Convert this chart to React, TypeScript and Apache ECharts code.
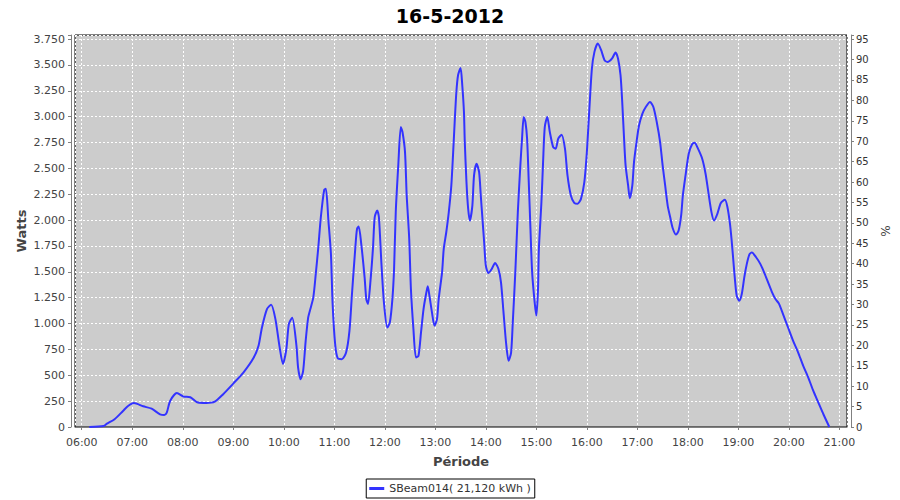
import React, { useEffect, useRef } from "react";
import * as echarts from "echarts";

const chartTitle = "16-5-2012";
const seriesName = "SBeam014( 21,120 kWh )";
const axisMin = "05:52";
const axisMax = "21:09";

const times = [
  "06:09", "06:26", "06:30", "06:39", "06:49", "06:55", "07:02", "07:13", "07:23", "07:33",
  "07:38", "07:41", "07:45", "07:53", "08:01", "08:09", "08:18", "08:28", "08:38", "08:48",
  "09:00", "09:12", "09:24", "09:30", "09:34", "09:40", "09:45", "09:50", "09:55", "09:59",
  "10:03", "10:06", "10:10", "10:15", "10:17", "10:20", "10:23", "10:26", "10:29", "10:31",
  "10:35", "10:38", "10:41", "10:44", "10:48", "10:50", "10:53", "10:56", "10:58", "11:01",
  "11:04", "11:09", "11:14", "11:18", "11:21", "11:25", "11:27", "11:29", "11:32", "11:36",
  "11:38", "11:40", "11:43", "11:46", "11:48", "11:51", "11:53", "11:56", "11:59", "12:03",
  "12:06", "12:09", "12:11", "12:13", "12:16", "12:19", "12:21", "12:24", "12:26", "12:29",
  "12:31", "12:34", "12:37", "12:40", "12:43", "12:46", "12:49", "12:51", "12:53", "12:56",
  "12:59", "13:02", "13:04", "13:08", "13:10", "13:13", "13:16", "13:19", "13:21", "13:23",
  "13:25", "13:27", "13:30", "13:32", "13:34", "13:35", "13:37", "13:39", "13:41", "13:44",
  "13:46", "13:49", "13:52", "13:54", "13:56", "13:58", "14:00", "14:03", "14:07", "14:11",
  "14:15", "14:18", "14:21", "14:24", "14:27", "14:30", "14:32", "14:35", "14:38", "14:41",
  "14:43", "14:45", "14:47", "14:49", "14:51", "14:53", "14:55", "14:58", "15:00", "15:02",
  "15:03", "15:06", "15:08", "15:10", "15:13", "15:16", "15:20", "15:23", "15:26", "15:30",
  "15:34", "15:37", "15:41", "15:45", "15:49", "15:53", "15:57", "16:00", "16:03", "16:06",
  "16:09", "16:13", "16:17", "16:21", "16:25", "16:30", "16:34", "16:37", "16:40", "16:42",
  "16:44", "16:46", "16:49", "16:51", "16:54", "16:56", "16:59", "17:02", "17:06", "17:10",
  "17:15", "17:19", "17:23", "17:27", "17:30", "17:33", "17:36", "17:39", "17:42", "17:46",
  "17:49", "17:52", "17:54", "17:57", "18:01", "18:05", "18:08", "18:12", "18:17", "18:21",
  "18:24", "18:28", "18:31", "18:35", "18:39", "18:44", "18:47", "18:50", "18:52", "18:54",
  "18:56", "18:58", "19:01", "19:04", "19:07", "19:10", "19:13", "19:16", "19:21", "19:26",
  "19:31", "19:36", "19:40", "19:44", "19:48", "19:53", "19:59", "20:05", "20:11", "20:17",
  "20:23", "20:29", "20:35", "20:41", "20:48"
];

const watts = [
  0, 10, 32, 75, 155, 203, 232, 200, 177, 123,
  116, 139, 252, 329, 294, 288, 236, 232, 245, 317,
  420, 526, 666, 785, 960, 1140, 1182, 1045, 775, 610,
  750, 995, 1056, 790, 575, 462, 543, 833, 1059, 1124,
  1250, 1480, 1737, 2028, 2293, 2303, 1996, 1673, 1189, 801,
  666, 656, 720, 930, 1286, 1737, 1915, 1938, 1770, 1447,
  1237, 1189, 1415, 1737, 2028, 2093, 2028, 1577, 1200, 962,
  1011, 1237, 1528, 2077, 2529, 2900, 2852, 2658, 2238, 1819,
  1334, 947, 672, 688, 914, 1140, 1286, 1360, 1269, 1108,
  979, 1043, 1237, 1495, 1722, 1883, 2077, 2335, 2626, 2949,
  3239, 3401, 3472, 3304, 3046, 2755, 2367, 2110, 1996, 2141,
  2432, 2545, 2464, 2238, 2012, 1786, 1560, 1489, 1528, 1586,
  1528, 1398, 1108, 817, 640, 720, 1011, 1495, 2077, 2529,
  2788, 2997, 2949, 2788, 2367, 1915, 1495, 1205, 1076, 1334,
  1720, 2170, 2561, 2900, 2997, 2852, 2706, 2691, 2788, 2826,
  2691, 2432, 2238, 2168, 2158, 2206, 2367, 2658, 3078, 3466,
  3627, 3708, 3643, 3547, 3530, 3563, 3621, 3563, 3401, 3143,
  2820, 2529, 2335, 2212, 2335, 2561, 2755, 2917, 3030, 3094,
  3143, 3094, 2949, 2755, 2529, 2335, 2141, 2028, 1922, 1860,
  1899, 2045, 2238, 2420, 2642, 2733, 2749, 2691, 2594, 2449,
  2287, 2077, 1996, 2061, 2164, 2197, 2125, 1964, 1802, 1609,
  1415, 1269, 1221, 1286, 1447, 1577, 1667, 1686, 1641, 1577,
  1486, 1383, 1302, 1237, 1195, 1092, 962, 833, 720, 591,
  478, 349, 236, 123, 0
];

const wattsMax = 3790;
const wattsStep = 250;
const percentMax = 96;
const percentStep = 5;

const toMs = (hm: string) => {
  const [h, m] = hm.split(":").map(Number);
  return new Date(2012, 4, 16, h, m, 0).getTime();
};

const pad = (n: number) => (n < 10 ? "0" + n : "" + n);

const fmtThousands = (v: number) => {
  const s = String(Math.round(v));
  return s.replace(/\B(?=(\d{3})+(?!\d))/g, ".");
};

const FONT = "DejaVu Sans";

export default function App() {
  const ref = useRef<HTMLDivElement>(null);

  useEffect(() => {
    if (!ref.current) return;
    const chart = echarts.init(ref.current, undefined, { renderer: "svg" });
    const data = times.map((t, i) => [toMs(t), watts[i]]);
    chart.setOption({
      animation: false,
      backgroundColor: "#ffffff",
      textStyle: { fontFamily: FONT },
      title: {
        text: chartTitle,
        left: "center",
        top: 1,
        textStyle: { fontFamily: FONT, fontSize: 19, fontWeight: "bold", color: "#000" },
      },
      legend: {
        data: [{ name: seriesName, icon: "rect" }],
        bottom: 2,
        left: "center",
        itemWidth: 15,
        itemHeight: 3,
        borderColor: "#000",
        borderWidth: 1,
        borderRadius: 0,
        padding: [4, 4, 4, 3],
        textStyle: { fontFamily: FONT, fontSize: 11, color: "#333" },
      },
      grid: {
        left: 75,
        top: 35,
        width: 772,
        height: 392,
        show: true,
        backgroundColor: "#cccccc",
        borderColor: "#000",
        borderWidth: 1,
        containLabel: false,
      },
      xAxis: {
        type: "time",
        min: toMs(axisMin),
        max: toMs(axisMax),
        minInterval: 3600000,
        maxInterval: 3600000,
        splitNumber: 15,
        offset: 4,
        name: "Période",
        nameLocation: "middle",
        nameGap: 24,
        nameTextStyle: { fontFamily: FONT, fontSize: 13, fontWeight: "bold", color: "#444" },
        axisLine: { show: true, lineStyle: { color: "#808080", width: 1 } },
        axisTick: { show: true, length: 3, lineStyle: { color: "#808080" } },
        axisLabel: {
          fontFamily: FONT,
          fontSize: 11,
          color: "#444",
          margin: 6,
          showMinLabel: false,
          showMaxLabel: false,
          formatter: (v: number) => {
            const d = new Date(v);
            if (d.getMinutes() !== 0) return "";
            return pad(d.getHours()) + ":00";
          },
        },
        splitLine: { show: true, lineStyle: { color: "#ffffff", type: [2, 2], width: 1 } },
      },
      yAxis: [
        {
          type: "value",
          min: 0,
          max: wattsMax,
          interval: wattsStep,
          position: "left",
          offset: 4,
          name: "Watts",
          nameLocation: "middle",
          nameGap: 43,
          nameMoveOverlap: false,
          nameTextStyle: { fontFamily: FONT, fontSize: 13, fontWeight: "bold", color: "#444" },
          axisLine: { show: true, lineStyle: { color: "#808080", width: 1 } },
          axisTick: { show: true, length: 3, lineStyle: { color: "#808080" } },
          axisLabel: {
            fontFamily: FONT,
            fontSize: 11,
            color: "#444",
            margin: 6,
            formatter: (v: number) => (v % wattsStep === 0 ? fmtThousands(v) : ""),
          },
          splitLine: { show: true, lineStyle: { color: "#ffffff", type: [2, 2], width: 1 } },
        },
        {
          type: "value",
          min: 0,
          max: percentMax,
          interval: percentStep,
          position: "right",
          offset: 4,
          name: "%",
          nameLocation: "middle",
          nameGap: 24,
          nameRotate: 90,
          nameTextStyle: { fontFamily: FONT, fontSize: 12, color: "#444" },
          axisLine: { show: true, lineStyle: { color: "#808080", width: 1 } },
          axisTick: { show: true, length: 3, lineStyle: { color: "#808080" } },
          axisLabel: {
            fontFamily: FONT,
            fontSize: 10,
            color: "#333",
            margin: 5,
            formatter: (v: number) => (v % percentStep === 0 ? String(v) : ""),
          },
          splitLine: { show: false },
        },
      ],
      series: [
        {
          name: seriesName,
          type: "line",
          yAxisIndex: 0,
          data,
          showSymbol: false,
          symbol: "none",
          smooth: 0.25,
          lineStyle: { color: "#3333ff", width: 2 },
          itemStyle: { color: "#3333ff" },
        },
      ],
    });
    return () => chart.dispose();
  }, []);

  return (
    <div
      ref={ref}
      style={{ position: "fixed", left: 0, top: 0, width: 900, height: 500 }}
    />
  );
}
